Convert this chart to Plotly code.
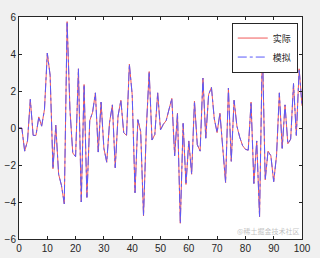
import plotly.graph_objects as go

x_vals = list(range(0, 101))
actual = [0, 0, -1.25, -0.7, 1.55, -0.4, -0.4, 0.6, 0.1, 1.0,
          4.05, 2.85, -2.2, 0.15, -2.5, -3.1, -4.1, 5.75, 1.0, -1.35,
          -1.55, 3.2, -4.0, 2.35, -3.75, 0.4, 0.85, 1.9, -1.3, 1.4,
          -1.1, -1.85, 0.3, 1.25, -2.15, 0.65, 1.5, -0.25, -0.4, 3.45,
          1.8, -3.5, 0.45, -0.2, -4.75, 0.0, 3.05, -0.65, -0.35, 1.9,
          -0.1, 0.2, 0.4, 1.0, 1.6, -1.5, 0.8, -5.15, 0.25, -3.05,
          -0.7, -2.5, 1.45, -0.9, -1.25, 2.7, -0.55, 1.8, 2.2, 0.5,
          -0.25, 0.8, -0.9, -2.95, 2.15, -1.8, 1.5, 0.1, -0.5, -0.95,
          -1.15, -1.2, 1.4, -3.0, -0.7, -4.8, 4.45, -2.8, -1.25, -1.5,
          -2.9, -1.5, 1.9, -1.1, 1.25, -0.85, -0.6, 2.4, -0.4, 3.2,
          1.2]
simulated = list(actual)
x_ticks = [0, 10, 20, 30, 40, 50, 60, 70, 80, 90, 100]
y_ticks = [-6, -4, -2, 0, 2, 4, 6]

fig = go.Figure()
fig.add_trace(go.Scatter(x=x_vals, y=actual, mode="lines", name="实际",
                         line=dict(color="rgb(240,90,90)", width=1)))
fig.add_trace(go.Scatter(x=x_vals, y=simulated, mode="lines", name="模拟",
                         line=dict(color="rgb(90,90,250)", width=1, dash="dashdot")))

axis_common = dict(showgrid=False, zeroline=False, showline=True, linecolor="#262626",
                   linewidth=1, mirror="ticks", ticks="inside", ticklen=3, automargin=False,
                   tickcolor="#262626", tickfont=dict(family="Liberation Sans, Arial", size=10, color="#262626"))
fig.update_xaxes(range=[0, 100], tickvals=x_ticks, **axis_common)
fig.update_yaxes(range=[-6, 6], tickvals=y_ticks, **axis_common)

fig.add_annotation(text="@稀土掘金技术社区", xref="paper", yref="paper", x=0.995, y=0.01,
                   xanchor="right", yanchor="bottom", showarrow=False, borderpad=0,
                   font=dict(family="Noto Sans CJK SC", size=7, color="rgba(150,150,150,0.6)"))

fig.update_layout(
    width=320, height=258,
    margin=dict(l=19, r=18, t=17, b=19),
    paper_bgcolor="#f0f0f0", plot_bgcolor="white",
    showlegend=True,
    legend=dict(x=0.985, y=0.975, xanchor="right", yanchor="top",
                bgcolor="white", bordercolor="#262626", borderwidth=1,
                font=dict(family="Noto Sans CJK SC", size=9, color="#262626"),
                itemwidth=30, tracegroupgap=0),
)
fig.write_html("out.html")
